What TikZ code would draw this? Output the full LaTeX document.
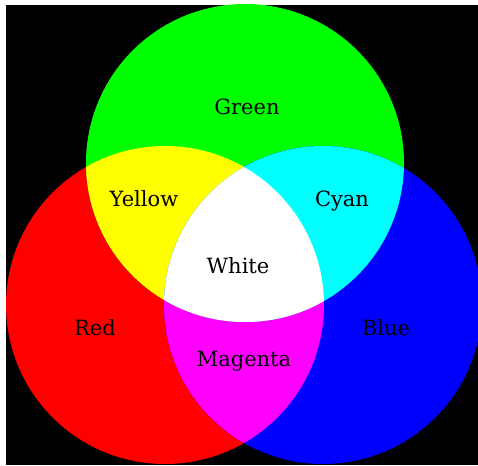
\documentclass[tikz,border=0pt]{standalone}
\usepackage{fontspec}
\setmainfont{DejaVu Serif}
\definecolor{pred}{RGB}{255,0,0}
\definecolor{pgreen}{RGB}{0,255,0}
\definecolor{pblue}{RGB}{0,0,255}
\definecolor{pyellow}{RGB}{255,255,0}
\definecolor{pmagenta}{RGB}{255,0,255}
\definecolor{pcyan}{RGB}{0,255,255}
\begin{document}
\begin{tikzpicture}[x=1pt,y=-1pt,
  lbl/.style={anchor=base,inner sep=0pt,font=\fontsize{21}{24}\selectfont,text=black}]
\useasboundingbox (0,0) rectangle (478,465);
\fill[white] (0,0) rectangle (478,465);
\fill[black] (6,5) rectangle (478,465);
\def\redc{(165,305) circle (159)}
\def\grnc{(245,163) circle (159)}
\def\bluc{(323,305) circle (159)}
\begin{scope}
\clip (6,5) rectangle (478,465);
\fill[pred] \redc;
\fill[pgreen] \grnc;
\fill[pblue] \bluc;
\begin{scope}\clip \redc; \fill[pyellow] \grnc; \end{scope}
\begin{scope}\clip \redc; \fill[pmagenta] \bluc; \end{scope}
\begin{scope}\clip \grnc; \fill[pcyan] \bluc; \end{scope}
\begin{scope}\clip \redc; \clip \grnc; \fill[white] \bluc; \end{scope}
\end{scope}
\node[lbl] (green) at (247,115) {Green};
\node[lbl] (yellow) at (144,206) {Yellow};
\node[lbl] (cyan) at (342,206) {Cyan};
\node[lbl] (white) at (238,273) {White};
\node[lbl] (red) at (95,335) {Red};
\node[lbl] (blue) at (386,335) {Blue};
\node[lbl] (magenta) at (244,366) {Magenta};
\end{tikzpicture}
\end{document}
